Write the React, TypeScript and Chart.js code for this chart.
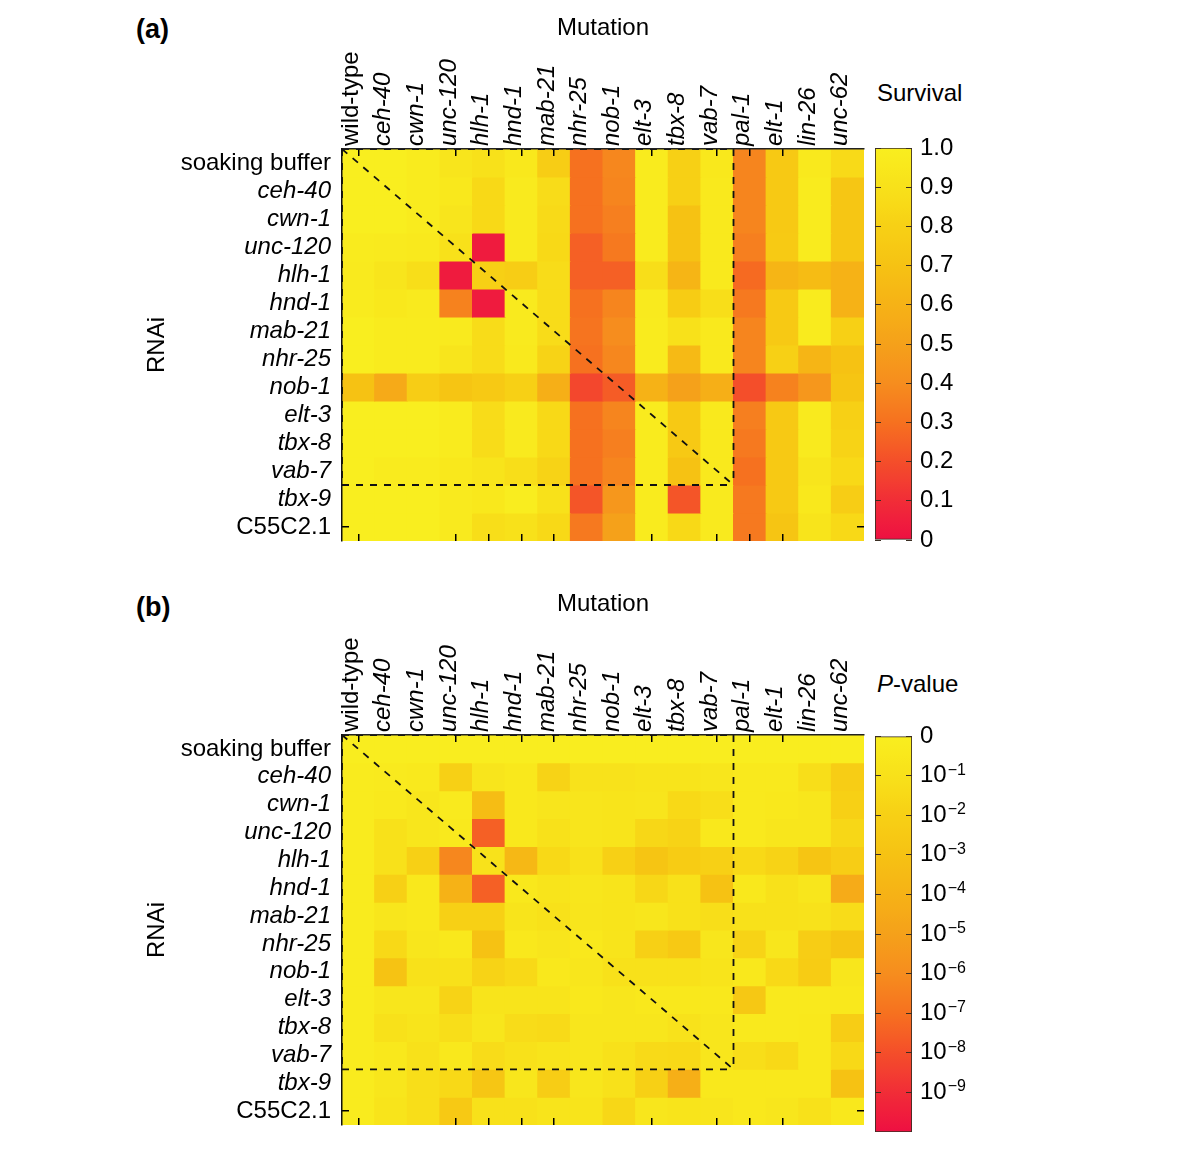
import React, { useEffect, useRef } from 'react';
import { Chart, registerables } from 'chart.js';

Chart.register(...registerables);

// ---------------- data ----------------
const mutations = ['wild-type', 'ceh-40', 'cwn-1', 'unc-120', 'hlh-1', 'hnd-1', 'mab-21', 'nhr-25', 'nob-1', 'elt-3', 'tbx-8', 'vab-7', 'pal-1', 'elt-1', 'lin-26', 'unc-62'];
const rnaiTargets = ['soaking buffer', 'ceh-40', 'cwn-1', 'unc-120', 'hlh-1', 'hnd-1', 'mab-21', 'nhr-25', 'nob-1', 'elt-3', 'tbx-8', 'vab-7', 'tbx-9', 'C55C2.1'];
const uprightLabels = ['wild-type', 'soaking buffer', 'C55C2.1'];
const tickedMutations = ['wild-type', 'unc-120', 'hlh-1', 'hnd-1', 'mab-21', 'elt-3', 'vab-7', 'pal-1', 'elt-1'];
const tickedTargets = ['C55C2.1'];
const firstUntestedMutation = 'pal-1';
const firstUntestedTarget = 'tbx-9';

// survival fraction, rows = RNAi targets, columns = mutations
const survival: number[][] = [
  [1.00, 1.00, 0.98, 0.93, 0.90, 0.95, 0.78, 0.30, 0.38, 0.98, 0.80, 0.95, 0.37, 0.75, 0.96, 0.86],
  [1.00, 1.00, 0.98, 0.95, 0.85, 0.97, 0.87, 0.30, 0.37, 0.98, 0.80, 0.96, 0.37, 0.75, 0.98, 0.73],
  [1.00, 1.00, 0.98, 0.93, 0.85, 0.97, 0.86, 0.30, 0.35, 0.98, 0.70, 0.96, 0.37, 0.75, 0.98, 0.73],
  [0.98, 0.97, 0.96, 0.90, 0.04, 0.97, 0.85, 0.25, 0.33, 0.98, 0.70, 0.96, 0.35, 0.76, 0.98, 0.73],
  [0.97, 0.93, 0.88, 0.04, 0.80, 0.78, 0.87, 0.25, 0.25, 0.88, 0.62, 0.96, 0.28, 0.62, 0.66, 0.60],
  [0.98, 0.95, 0.97, 0.36, 0.04, 0.97, 0.87, 0.30, 0.37, 0.97, 0.77, 0.88, 0.33, 0.75, 0.98, 0.60],
  [1.00, 0.98, 0.98, 0.97, 0.87, 0.97, 0.87, 0.31, 0.40, 0.98, 0.90, 0.96, 0.37, 0.75, 0.98, 0.80],
  [1.00, 0.98, 0.98, 0.93, 0.87, 0.96, 0.82, 0.30, 0.38, 0.98, 0.65, 0.96, 0.37, 0.80, 0.62, 0.70],
  [0.70, 0.55, 0.78, 0.72, 0.75, 0.80, 0.58, 0.18, 0.24, 0.60, 0.50, 0.58, 0.20, 0.36, 0.45, 0.72],
  [1.00, 1.00, 1.00, 0.98, 0.87, 0.97, 0.85, 0.30, 0.37, 0.98, 0.75, 0.96, 0.35, 0.75, 0.97, 0.80],
  [1.00, 1.00, 1.00, 0.98, 0.87, 0.97, 0.85, 0.30, 0.35, 0.98, 0.75, 0.96, 0.33, 0.75, 0.97, 0.82],
  [1.00, 0.98, 0.98, 0.95, 0.92, 0.88, 0.82, 0.30, 0.37, 0.98, 0.70, 0.96, 0.30, 0.75, 0.93, 0.85],
  [1.00, 1.00, 1.00, 0.97, 0.95, 0.99, 0.90, 0.22, 0.45, 0.98, 0.22, 0.97, 0.33, 0.75, 0.95, 0.78],
  [1.00, 1.00, 1.00, 0.97, 0.88, 0.90, 0.85, 0.33, 0.50, 0.98, 0.85, 0.97, 0.33, 0.72, 0.92, 0.85],
];

// -log10(P-value), rows = RNAi targets, columns = mutations
const negLog10P: number[][] = [
  [0.1, 0.1, 0.1, 0.1, 0.1, 0.1, 0.1, 0.1, 0.1, 0.1, 0.1, 0.1, 0.1, 0.1, 0.1, 0.1],
  [0.2, 0.3, 0.4, 2.0, 0.7, 0.5, 1.8, 0.9, 0.9, 0.8, 0.8, 0.6, 0.4, 0.4, 1.2, 2.2],
  [0.2, 0.4, 0.6, 0.3, 3.3, 0.5, 0.7, 0.7, 0.8, 0.7, 1.5, 1.2, 0.4, 0.5, 0.6, 2.0],
  [0.2, 1.0, 0.6, 0.4, 7.5, 0.5, 1.0, 0.7, 0.8, 1.6, 1.8, 0.5, 0.4, 0.6, 0.6, 1.6],
  [0.2, 1.0, 2.0, 6.2, 0.9, 3.6, 1.5, 1.0, 2.0, 2.8, 2.3, 2.0, 1.5, 1.8, 2.8, 2.2],
  [0.2, 2.0, 0.5, 4.0, 7.5, 0.5, 0.8, 0.6, 0.8, 1.6, 1.0, 3.0, 0.5, 1.0, 0.6, 4.4],
  [0.2, 0.6, 0.5, 2.0, 2.0, 0.8, 1.0, 0.7, 0.8, 0.6, 1.0, 1.2, 1.0, 1.0, 0.9, 1.3],
  [0.2, 1.5, 0.6, 0.5, 3.0, 0.5, 0.7, 0.5, 0.8, 2.0, 2.5, 0.6, 1.8, 0.6, 2.2, 2.8],
  [0.2, 2.9, 1.0, 1.0, 1.8, 1.5, 0.5, 0.6, 1.0, 1.0, 1.0, 0.8, 0.5, 1.5, 2.3, 0.6],
  [0.2, 0.6, 0.6, 1.8, 0.8, 0.8, 0.8, 0.5, 0.6, 0.5, 0.5, 0.5, 2.6, 0.4, 0.4, 0.5],
  [0.2, 1.0, 0.8, 1.2, 0.6, 1.3, 1.4, 0.6, 0.6, 0.6, 0.9, 0.6, 0.4, 0.4, 0.5, 2.2],
  [0.2, 0.5, 1.0, 0.5, 1.3, 1.0, 0.8, 0.6, 1.0, 1.4, 1.5, 0.6, 1.2, 1.5, 0.5, 1.5],
  [0.2, 0.6, 1.2, 1.5, 2.7, 0.6, 2.2, 0.6, 1.0, 2.0, 4.2, 0.5, 0.5, 0.5, 0.5, 3.0],
  [0.2, 0.8, 1.2, 2.5, 1.0, 1.0, 0.8, 0.8, 1.6, 0.6, 0.8, 0.7, 0.5, 0.6, 1.0, 0.5],
];

const survivalTicks = [0, 0.1, 0.2, 0.3, 0.4, 0.5, 0.6, 0.7, 0.8, 0.9, 1.0];
const survivalTickLabels = ['0', '0.1', '0.2', '0.3', '0.4', '0.5', '0.6', '0.7', '0.8', '0.9', '1.0'];
const survivalRange = [0, 1];
const pTicks = [0, 1, 2, 3, 4, 5, 6, 7, 8, 9];
const pTickBases = ['0', '10', '10', '10', '10', '10', '10', '10', '10', '10'];
const pTickExponents: (number | null)[] = [null, -1, -2, -3, -4, -5, -6, -7, -8, -9];
const pRange = [0, 10];

// ---------------- styles ----------------
const FONT = "'Liberation Sans', Arial, Helvetica, sans-serif";
const FONT_SIZE = 24;
const SUP_SIZE = 16;
const colorStops: [number, number[]][] = [
  [0.0, [238, 15, 66]],
  [0.1, [241, 45, 55]],
  [0.2, [244, 78, 42]],
  [0.3, [246, 113, 31]],
  [0.4, [246, 141, 30]],
  [0.5, [245, 161, 26]],
  [0.6, [246, 178, 22]],
  [0.7, [246, 194, 19]],
  [0.8, [247, 208, 21]],
  [0.9, [248, 225, 26]],
  [1.0, [249, 238, 31]],
];

function colorAt(t: number): string {
  const u = Math.max(0, Math.min(1, t));
  for (let i = 1; i < colorStops.length; i++) {
    const [t1, c1] = colorStops[i];
    const [t0, c0] = colorStops[i - 1];
    if (u <= t1) {
      const f = (u - t0) / (t1 - t0);
      const c = c0.map((v, k) => Math.round(v + (c1[k] - v) * f));
      return `rgb(${c[0]},${c[1]},${c[2]})`;
    }
  }
  const c = colorStops[colorStops.length - 1][1];
  return `rgb(${c[0]},${c[1]},${c[2]})`;
}

const survivalColor = (v: number) => colorAt((v - survivalRange[0]) / (survivalRange[1] - survivalRange[0]));
const pColor = (v: number) => colorAt(1 - (v - pRange[0]) / (pRange[1] - pRange[0]));

type Geom = { width: number; height: number; top: number; bottom: number; left: number; right: number; padTop: number; padLeft: number };

function labelFont(labels: string[], lineHeight?: number) {
  return (ctx: any) => ({
    family: FONT,
    size: FONT_SIZE,
    style: uprightLabels.includes(labels[ctx.index]) ? 'normal' : 'italic',
    lineHeight: lineHeight ?? 1.2,
  });
}

const noPad = (s: any) => { s.paddingTop = 0; s.paddingBottom = 0; s.paddingLeft = 0; s.paddingRight = 0; };

function heatmapConfig(values: number[][], toColor: (v: number) => string, g: Geom): any {
  const colCenters = mutations.map((_, i) => i + 0.5);
  const rowCenters = rnaiTargets.map((_, i) => i + 0.5);
  const splitCol = mutations.indexOf(firstUntestedMutation);
  const splitRow = rnaiTargets.indexOf(firstUntestedTarget);

  const cellSets = rnaiTargets.map((name, r) => ({
    type: 'bar',
    label: name,
    data: mutations.map((_, c) => ({ x: colCenters[c], y: [r, r + 1] })),
    backgroundColor: values[r].map(toColor),
    borderWidth: 0,
    barPercentage: 1,
    categoryPercentage: 1,
    grouped: false,
    inflateAmount: 0.5,
    order: 2,
    xAxisID: 'x',
    yAxisID: 'y',
  }));

  const dashed = (pts: { x: number; y: number }[]) => ({
    type: 'line',
    data: pts,
    borderColor: '#111',
    borderWidth: 1.8,
    borderDash: [7, 7],
    pointRadius: 0,
    fill: false,
    tension: 0,
    clip: false,
    order: 0,
    xAxisID: 'x',
    yAxisID: 'y',
  });
  const lineSets = [
    dashed([{ x: 0, y: 0 }, { x: splitCol, y: splitRow }]),
    dashed([{ x: 0, y: splitRow }, { x: splitCol, y: splitRow }]),
    dashed([{ x: splitCol, y: 0 }, { x: splitCol, y: splitRow }]),
    dashed([{ x: 0, y: 0 }, { x: 0, y: splitRow }]),
    dashed([{ x: 0, y: 0 }, { x: splitCol, y: 0 }]),
  ];

  const colTickColor = (ctx: any) => (tickedMutations.includes(mutations[ctx.index]) ? '#000' : 'rgba(0,0,0,0)');
  const rowTickColor = (ctx: any) => (tickedTargets.includes(rnaiTargets[ctx.index]) ? '#000' : 'rgba(0,0,0,0)');
  const setColTicks = (s: any) => { s.ticks = colCenters.map((v) => ({ value: v })); };
  const setRowTicks = (s: any) => { s.ticks = rowCenters.map((v) => ({ value: v })); };
  const tickGrid = (color: any) => ({ drawOnChartArea: false, drawTicks: true, tickLength: -7, color, tickColor: color, lineWidth: 1.5, tickWidth: 1.5, offset: false, z: 1 });

  return {
    type: 'bar',
    data: { datasets: [...lineSets, ...cellSets] },
    options: {
      responsive: false,
      animation: false,
      events: [],
      layout: { padding: { top: g.padTop, left: g.padLeft, right: 0, bottom: 0 } },
      plugins: { legend: { display: false }, tooltip: { enabled: false }, title: { display: false } },
      scales: {
        x: {
          type: 'linear',
          position: 'top',
          offset: false,
          min: 0,
          max: mutations.length,
          afterBuildTicks: setColTicks,
          afterFit: (s: any) => { s.height = g.top - g.padTop; noPad(s); },
          ticks: {
            autoSkip: false,
            minRotation: 90,
            maxRotation: 90,
            padding: 10,
            color: '#000',
            font: labelFont(mutations, 0.3),
            callback: (_v: any, i: number) => mutations[i],
          },
          grid: tickGrid(colTickColor),
          border: { display: true, color: '#222', width: 1.5, z: 1 },
          title: { display: true, text: 'Mutation', color: '#000', font: { family: FONT, size: FONT_SIZE }, padding: { top: 4, bottom: 0 } },
        },
        x2: {
          type: 'linear',
          position: 'bottom',
          offset: false,
          min: 0,
          max: mutations.length,
          afterBuildTicks: setColTicks,
          afterFit: (s: any) => { s.height = g.height - g.bottom; noPad(s); },
          ticks: { display: false },
          grid: tickGrid(colTickColor),
          border: { display: false },
        },
        y: {
          type: 'linear',
          position: 'left',
          reverse: true,
          min: 0,
          max: rnaiTargets.length,
          afterBuildTicks: setRowTicks,
          afterFit: (s: any) => { s.width = g.left - g.padLeft; noPad(s); },
          ticks: {
            autoSkip: false,
            padding: 18,
            color: '#000',
            font: labelFont(rnaiTargets),
            callback: (_v: any, i: number) => rnaiTargets[i],
          },
          grid: tickGrid(rowTickColor),
          border: { display: true, color: '#111', width: 1.5, z: 1 },
          title: { display: true, text: 'RNAi', color: '#000', font: { family: FONT, size: FONT_SIZE }, padding: { top: 3, bottom: 0 } },
        },
        y2: {
          type: 'linear',
          position: 'right',
          reverse: true,
          min: 0,
          max: rnaiTargets.length,
          afterBuildTicks: setRowTicks,
          afterFit: (s: any) => { s.width = g.width - g.right; noPad(s); },
          ticks: { display: false },
          grid: tickGrid(rowTickColor),
          border: { display: false },
        },
      },
    },
  };
}

type BarGeom = { top: number; bottom: number; barWidth: number; width: number };
const CB_TICK = -6;
const CB_PAD = 14;
const CB_LINE = '#3a2e22';

function exponentPlugin(exponents: (number | null)[]) {
  return {
    id: 'exponentLabels',
    afterDraw(chart: any) {
      const s = chart.scales.y;
      const ctx = chart.ctx;
      ctx.save();
      ctx.fillStyle = '#000';
      ctx.textAlign = 'left';
      ctx.textBaseline = 'alphabetic';
      const x0 = s.left + CB_TICK + CB_PAD;
      s.ticks.forEach((t: any, i: number) => {
        const e = exponents[i];
        if (e === null || e === undefined) return;
        const y = s.getPixelForValue(t.value);
        ctx.font = `${FONT_SIZE}px ${FONT}`;
        const w = ctx.measureText(String(t.label)).width;
        ctx.font = `${SUP_SIZE}px ${FONT}`;
        ctx.fillText((e < 0 ? '\u2212' : '') + Math.abs(e), x0 + w + 1, y - 1);
      });
      ctx.restore();
    },
  };
}

function colorbarConfig(range: number[], reverse: boolean, ticks: number[], tickLabels: string[], toColor: (v: number) => string, g: BarGeom, exponents?: (number | null)[]): any {
  const setTicks = (s: any) => { s.ticks = ticks.map((v) => ({ value: v })); };
  const gradient = (ctx: any) => {
    const chart = ctx.chart;
    const area = chart.chartArea;
    if (!area) return toColor(range[1]);
    const y = chart.scales.y;
    const p0 = y.getPixelForValue(range[0]);
    const p1 = y.getPixelForValue(range[1]);
    const grad = chart.ctx.createLinearGradient(0, p0, 0, p1);
    const n = 40;
    for (let i = 0; i <= n; i++) {
      const v = range[0] + ((range[1] - range[0]) * i) / n;
      grad.addColorStop(i / n, toColor(v));
    }
    return grad;
  };
  const cbGrid = { drawOnChartArea: false, drawTicks: true, tickLength: CB_TICK, color: CB_LINE, tickColor: CB_LINE, lineWidth: 1, tickWidth: 1, z: 1 };
  return {
    type: 'bar',
    data: {
      labels: [''],
      datasets: [{
        data: [[range[0], range[1]]],
        backgroundColor: gradient,
        borderColor: CB_LINE,
        borderWidth: 1.2,
        borderSkipped: false,
        barPercentage: 1,
        categoryPercentage: 1,
      }],
    },
    plugins: exponents ? [exponentPlugin(exponents)] : [],
    options: {
      responsive: false,
      animation: false,
      events: [],
      layout: { padding: { top: g.top, bottom: g.bottom, left: 0, right: 0 } },
      plugins: { legend: { display: false }, tooltip: { enabled: false } },
      scales: {
        x: { display: false },
        y: {
          type: 'linear',
          position: 'right',
          min: range[0],
          max: range[1],
          reverse,
          afterBuildTicks: setTicks,
          afterFit: (s: any) => { s.width = g.width - 5 - g.barWidth; noPad(s); },
          ticks: {
            autoSkip: false,
            padding: CB_PAD,
            color: '#000',
            font: { family: FONT, size: FONT_SIZE },
            callback: (_v: any, i: number) => tickLabels[i],
          },
          grid: cbGrid,
          border: { display: false },
        },
        y0: {
          type: 'linear',
          position: 'left',
          min: range[0],
          max: range[1],
          reverse,
          afterBuildTicks: setTicks,
          afterFit: (s: any) => { s.width = 5; noPad(s); },
          ticks: { display: false },
          grid: cbGrid,
          border: { display: false },
        },
      },
    },
  };
}

function ChartCanvas({ build, left, top, width, height }: { build: () => any; left: number; top: number; width: number; height: number }) {
  const ref = useRef<HTMLCanvasElement | null>(null);
  useEffect(() => {
    if (!ref.current) return;
    const chart = new Chart(ref.current, build());
    return () => chart.destroy();
  }, []);
  return <canvas ref={ref} width={width} height={height} style={{ position: 'absolute', left, top, width, height }} />;
}

function Label({ left, top, children, size = FONT_SIZE, bold = false }: any) {
  return (
    <div style={{ position: 'absolute', left, top, fontFamily: FONT, fontSize: size, fontWeight: bold ? 700 : 400, lineHeight: '30px', color: '#000', whiteSpace: 'nowrap' }}>
      {children}
    </div>
  );
}

export default function App() {
  const geomA: Geom = { width: 868, height: 560, top: 149, bottom: 541, left: 342, right: 864, padTop: 10, padLeft: 140 };
  const geomB: Geom = { width: 868, height: 569, top: 159, bottom: 549, left: 342, right: 864, padTop: 10, padLeft: 140 };
  return (
    <div style={{ position: 'absolute', left: 0, top: 0, width: 1200, height: 1151, background: '#fff', overflow: 'hidden' }}>
      <Label left={136} top={14} size={27} bold>(a)</Label>
      <Label left={877} top={78}>Survival</Label>
      <ChartCanvas left={0} top={0} width={868} height={560} build={() => heatmapConfig(survival, survivalColor, geomA)} />
      <ChartCanvas left={870} top={120} width={120} height={440}
        build={() => colorbarConfig(survivalRange, false, survivalTicks, survivalTickLabels, survivalColor, { top: 28, bottom: 20, barWidth: 37, width: 120 })} />

      <Label left={136} top={592} size={27} bold>(b)</Label>
      <Label left={877} top={669}><i>P</i>-value</Label>
      <ChartCanvas left={0} top={576} width={868} height={569} build={() => heatmapConfig(negLog10P, pColor, geomB)} />
      <ChartCanvas left={870} top={700} width={120} height={450}
        build={() => colorbarConfig(pRange, true, pTicks, pTickBases, pColor, { top: 36, bottom: 18, barWidth: 37, width: 120 }, pTickExponents)} />
    </div>
  );
}
